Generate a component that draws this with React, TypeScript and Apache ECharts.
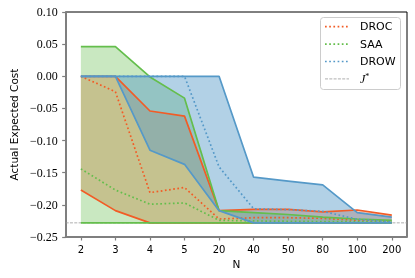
import React, { useEffect, useRef } from "react";
import * as echarts from "echarts";

const categories = ["2", "3", "4", "5", "20", "40", "50", "80", "100", "200"];
const drocUpper = [0, 0, -0.054, -0.062, -0.209, -0.207, -0.207, -0.211, -0.208, -0.216];
const drocLower = [-0.177, -0.209, -0.228, -0.228, -0.228, -0.228, -0.228, -0.228, -0.228, -0.228];
const drocMean = [0, -0.024, -0.181, -0.173, -0.222, -0.22, -0.22, -0.221, -0.224, -0.225];
const saaUpper = [0.046, 0.046, -0.001, -0.034, -0.209, -0.212, -0.215, -0.219, -0.222, -0.224];
const saaLower = [-0.228, -0.228, -0.228, -0.228, -0.228, -0.228, -0.228, -0.228, -0.228, -0.228];
const saaMean = [-0.144, -0.177, -0.199, -0.197, -0.224, -0.225, -0.2255, -0.226, -0.226, -0.227];
const drowUpper = [0, 0, 0, 0, 0, -0.157, -0.163, -0.169, -0.212, -0.219];
const drowLower = [0, 0, -0.115, -0.137, -0.209, -0.228, -0.228, -0.228, -0.228, -0.228];
const drowMean = [0, 0, 0, 0, -0.141, -0.206, -0.2075, -0.21, -0.2225, -0.2265];
const jStar = -0.228;
const yTicks = { min: -0.25, max: 0.1, interval: 0.05 };

const ORANGE = "#f25c26";
const GREEN = "#64be4c";
const BLUE = "#5599c8";
const GREY_AX = "#7f7f7f";
const DOT: number[] = [1.7, 2.5];
const LW = 1.7;

function hexA(hex: string, a: number) {
  const r = parseInt(hex.slice(1, 3), 16);
  const g = parseInt(hex.slice(3, 5), 16);
  const b = parseInt(hex.slice(5, 7), 16);
  return `rgba(${r},${g},${b},${a})`;
}

function band(name: string, upper: number[], lower: number[], color: string, alpha: number, z: number) {
  return {
    type: "custom",
    name,
    z,
    silent: true,
    data: [[0, upper[0]]],
    renderItem: (_params: any, api: any) => {
      const pts: number[][] = [];
      upper.forEach((v, i) => pts.push(api.coord([i, v])));
      for (let i = lower.length - 1; i >= 0; i--) pts.push(api.coord([i, lower[i]]));
      return {
        type: "polygon",
        shape: { points: pts },
        style: { fill: hexA(color, alpha), stroke: "none" },
      };
    },
  };
}

function line(name: string, vals: number[], color: string, dotted: boolean, z: number) {
  return {
    type: "line",
    name,
    z,
    data: vals.map((v, i) => [i, v]),
    showSymbol: false,
    symbol: "none",
    silent: true,
    lineStyle: { color, width: LW, type: dotted ? DOT : "solid", cap: "butt" },
  };
}

export default function App() {
  const ref = useRef<HTMLDivElement>(null);
  useEffect(() => {
    if (!ref.current) return;
    const chart = echarts.init(ref.current, undefined, { renderer: "svg" });
    const idx = categories.map((_, i) => i);
    const legendItems = [
      { label: "DROC", color: ORANGE, dash: DOT, w: LW },
      { label: "SAA", color: GREEN, dash: DOT, w: LW },
      { label: "DROW", color: BLUE, dash: DOT, w: LW },
      { label: "J*", color: "#999999", dash: [3, 1.3], w: 0.8 },
    ];
    const legendChildren: any[] = [
      {
        type: "rect",
        shape: { x: 320.5, y: 17.5, width: 80, height: 72, r: 3 },
        style: { fill: "rgba(255,255,255,0.8)", stroke: "#cccccc", lineWidth: 1 },
      },
    ];
    legendItems.forEach((it, k) => {
      const y = 26.7 + k * 17.4;
      legendChildren.push({
        type: "line",
        shape: { x1: 325, y1: y, x2: 349, y2: y },
        style: { stroke: it.color, lineWidth: it.w, lineDash: it.dash },
      });
      if (it.label === "J*") {
        legendChildren.push({
          type: "text",
          x: 360,
          y,
          style: {
            text: "{i|J}{s|*}",
            verticalAlign: "middle",
            rich: {
              i: { fontFamily: "Liberation Serif", fontStyle: "italic", fontSize: 12, fill: "#000" },
              s: { fontFamily: "Liberation Serif", fontSize: 8, fill: "#000", padding: [0, 0, 5, 0] },
            },
          },
        });
      } else {
        legendChildren.push({
          type: "text",
          x: 360,
          y,
          style: {
            text: it.label,
            fontFamily: "DejaVu Sans",
            fontSize: 11,
            fill: "#000",
            verticalAlign: "middle",
          },
        });
      }
    });

    chart.setOption({
      animation: false,
      grid: {
        left: 61,
        right: 8,
        top: 12,
        bottom: 41,
        show: true,
        borderColor: "#000",
        borderWidth: 1,
        backgroundColor: "transparent",
      },
      xAxis: {
        type: "value",
        min: -0.44,
        max: 9.44,
        name: "N",
        nameLocation: "middle",
        nameGap: 21,
        nameTextStyle: { fontFamily: "DejaVu Sans", fontSize: 10.5, color: "#000" },
        axisLine: { show: true, onZero: false, lineStyle: { color: GREY_AX, width: 2 } },
        axisTick: { show: true, length: 3.5, customValues: idx, lineStyle: { color: GREY_AX, width: 1.2 } },
        axisLabel: {
          customValues: idx,
          margin: 7,
          fontFamily: "DejaVu Sans",
          fontSize: 10,
          color: "#000",
          formatter: (v: number) => categories[Math.round(v)] ?? "",
        },
        splitLine: { show: false },
      },
      yAxis: {
        type: "value",
        min: yTicks.min,
        max: yTicks.max,
        interval: yTicks.interval,
        name: "Actual Expected Cost",
        nameLocation: "middle",
        nameGap: 44,
        nameTextStyle: { fontFamily: "DejaVu Sans", fontSize: 10.5, color: "#000" },
        axisLine: { show: true, onZero: false, lineStyle: { color: GREY_AX, width: 2 } },
        axisTick: { show: true, length: 3.5, lineStyle: { color: GREY_AX, width: 1.2 } },
        axisLabel: {
          margin: 8,
          fontFamily: "Liberation Serif",
          fontSize: 12,
          color: "#000",
          formatter: (v: number) => (Math.abs(v) < 1e-9 ? "0.00" : (v < 0 ? "\u2212" : "") + Math.abs(v).toFixed(2)),
        },
        splitLine: { show: false },
      },
      series: [
        {
          type: "line",
          name: "J*",
          z: 1,
          data: [
            [-0.44, jStar],
            [9.44, jStar],
          ],
          showSymbol: false,
          symbol: "none",
          silent: true,
          lineStyle: { color: "#999999", width: 0.8, type: [3, 1.3] },
        },
        band("DROC band", drocUpper, drocLower, ORANGE, 0.35, 2),
        band("SAA band", saaUpper, saaLower, GREEN, 0.35, 2),
        band("DROW band", drowUpper, drowLower, BLUE, 0.45, 2),
        line("DROC upper", drocUpper, ORANGE, false, 3),
        line("DROC lower", drocLower, ORANGE, false, 3),
        line("DROC", drocMean, ORANGE, true, 3),
        line("SAA upper", saaUpper, GREEN, false, 3),
        line("SAA lower", saaLower, GREEN, false, 3),
        line("SAA", saaMean, GREEN, true, 3),
        line("DROW upper", drowUpper, BLUE, false, 3),
        line("DROW lower", drowLower, BLUE, false, 3),
        line("DROW", drowMean, BLUE, true, 3),
      ],
      graphic: [{ type: "group", z: 100, children: legendChildren }],
    });
    return () => chart.dispose();
  }, []);
  return <div ref={ref} style={{ position: "fixed", left: 0, top: 0, width: 415, height: 278 }} />;
}
